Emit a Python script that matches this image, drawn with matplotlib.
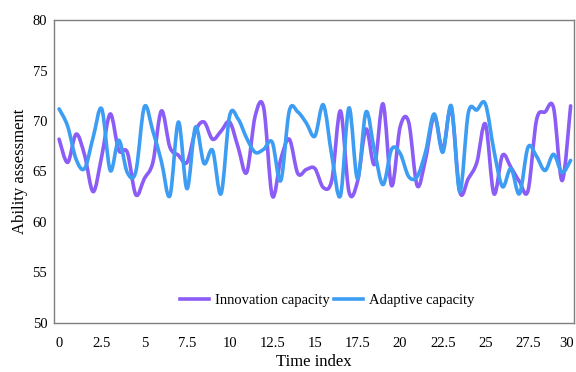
import matplotlib
matplotlib.use("Agg")
import matplotlib.pyplot as plt
from matplotlib.path import Path
from matplotlib.patches import PathPatch
from matplotlib.lines import Line2D
from matplotlib.transforms import ScaledTranslation

# ========================== DATA ==========================
time_index = [0, 0.5, 1, 1.5, 2, 2.5, 3, 3.5, 4, 4.5, 5, 5.5, 6, 6.5, 7, 7.5,
              8, 8.5, 9, 9.5, 10, 10.5, 11, 11.5, 12, 12.5, 13, 13.5, 14, 14.5,
              15, 15.5, 16, 16.5, 17, 17.5, 18, 18.5, 19, 19.5, 20, 20.5, 21,
              21.5, 22, 22.5, 23, 23.5, 24, 24.5, 25, 25.5, 26, 26.5, 27, 27.5,
              28, 28.5, 29, 29.5, 30]

innovation = [68.2, 65.9, 68.7, 66.6, 63.0, 66.5, 70.7, 67.1, 66.9, 62.7,
              64.3, 65.9, 71.0, 67.4, 66.6, 65.9, 69.0, 69.9, 68.2, 69.0,
              69.9, 67.4, 64.9, 70.5, 71.3, 62.6, 66.2, 68.2, 64.8, 65.2,
              65.3, 63.4, 64.2, 71.0, 63.0, 64.0, 69.2, 65.7, 71.7, 63.6,
              69.4, 69.9, 63.6, 66.3, 70.5, 67.2, 71.2, 63.0, 64.3, 65.9,
              69.7, 62.8, 66.6, 65.4, 64.0, 63.1, 70.1, 70.9, 71.3, 64.1,
              71.5]

adaptive = [71.2, 69.5, 66.2, 65.3, 68.4, 71.2, 65.1, 68.1, 64.9, 65.0,
            71.4, 69.0, 66.0, 62.6, 69.9, 63.3, 69.4, 65.8, 67.1, 62.8,
            70.5, 70.2, 68.3, 66.9, 67.2, 67.9, 64.1, 71.0, 70.9, 69.8,
            68.5, 71.6, 66.5, 62.6, 71.3, 64.3, 70.9, 67.0, 63.7, 67.2,
            66.8, 64.5, 64.5, 67.0, 70.7, 66.9, 71.5, 63.0, 70.8, 71.1,
            71.7, 67.1, 63.5, 65.3, 62.8, 67.4, 66.5, 65.1, 66.7, 64.9,
            66.1]

x_ticks = [0, 2.5, 5, 7.5, 10, 12.5, 15, 17.5, 20, 22.5, 25, 27.5, 30]
y_ticks = [50, 55, 60, 65, 70, 75, 80]

series_names = ["Innovation capacity", "Adaptive capacity"]
series_colors = ["#8b5cf6", "#3d9df3"]


def smooth_path(xs, ys):
    # Catmull-Rom style smoothing turned into cubic Bezier segments
    n = len(xs)
    verts = [(xs[0], ys[0])]
    codes = [Path.MOVETO]
    for i in range(n - 1):
        i0 = max(i - 1, 0)
        i3 = min(i + 2, n - 1)
        c1 = (xs[i] + (xs[i + 1] - xs[i0]) / 6, ys[i] + (ys[i + 1] - ys[i0]) / 6)
        c2 = (xs[i + 1] - (xs[i3] - xs[i]) / 6, ys[i + 1] - (ys[i3] - ys[i]) / 6)
        verts += [c1, c2, (xs[i + 1], ys[i + 1])]
        codes += [Path.CURVE4] * 3
    return Path(verts, codes)


plt.rcParams['font.family'] = ['Liberation Serif', 'DejaVu Serif']

fig = plt.figure(figsize=(5.76, 3.72), dpi=100)
ax = fig.add_axes([0.094, 0.132, 0.902, 0.814])

handles = []
for ys, name, col in zip([innovation, adaptive], series_names, series_colors):
    patch = PathPatch(smooth_path(time_index, ys), fill=False, edgecolor=col,
                      lw=2.6, capstyle='round', joinstyle='round')
    ax.add_patch(patch)
    handles.append(Line2D([], [], color=col, lw=2.6, label=name))

ax.set_xlim(-0.29, 30.18)
ax.set_ylim(50, 80)
ax.set_xticks(x_ticks)
ax.set_xticklabels([f"{t:g}" for t in x_ticks])
ax.set_yticks(y_ticks)
ax.tick_params(axis='x', length=0, labelsize=10.5, pad=10)
ax.tick_params(axis='y', length=0, labelsize=10.5, pad=5)

# keep the last x label inside the figure
last = ax.get_xticklabels()[-1]
last.set_transform(last.get_transform() + ScaledTranslation(-3 / 72, 0, fig.dpi_scale_trans))

for s in ax.spines.values():
    s.set_color("#7f7f7f")
    s.set_linewidth(1.0)

ax.set_xlabel("Time index", fontsize=12, labelpad=3)
ax.set_ylabel("Ability assessment", fontsize=12, labelpad=3)

ax.legend(handles=handles, loc='lower center', ncol=2, frameon=False,
          fontsize=10.5, handlelength=2.0, columnspacing=0.3,
          handletextpad=0.4, bbox_to_anchor=(0.525, 0.01))

fig.savefig("out.png", dpi=100)
